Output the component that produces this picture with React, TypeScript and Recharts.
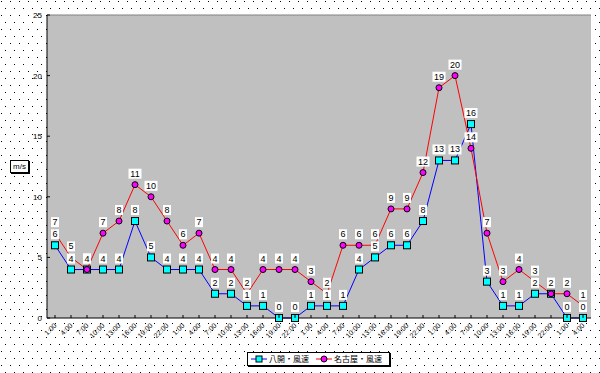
import React from 'react';
import { LineChart, Line, XAxis, YAxis, CartesianGrid, LabelList, ReferenceLine } from 'recharts';

const times = [
  '1:00', '4:00', '7:00', '10:00', '13:00', '16:00', '19:00', '22:00',
  '1:00', '4:00', '7:00', '10:00', '13:00', '16:00', '19:00', '22:00',
  '1:00', '4:00', '7:00', '10:00', '13:00', '16:00', '19:00', '22:00',
  '1:00', '4:00', '7:00', '10:00', '13:00', '16:00', '19:00', '22:00',
  '1:00', '4:00',
];
const hachikai = [6, 4, 4, 4, 4, 8, 5, 4, 4, 4, 2, 2, 1, 1, 0, 0, 1, 1, 1, 4, 5, 6, 6, 8, 13, 13, 16, 3, 1, 1, 2, 2, 0, 0];
const nagoya = [7, 5, 4, 7, 8, 11, 10, 8, 6, 7, 4, 4, 2, 4, 4, 4, 3, 2, 6, 6, 6, 9, 9, 12, 19, 20, 14, 7, 3, 4, 3, 2, 2, 1];
const yTicks = [0, 5, 10, 15, 20, 25];

const data = times.map((t, i) => ({ time: t, hachikai: hachikai[i], nagoya: nagoya[i] }));

const numFont = '"Liberation Sans", Arial, sans-serif';

const PointLabel = (props: any) => {
  const { x, y, value } = props;
  const s = String(value);
  const w = s.length * 5 + 3;
  return (
    <g>
      <rect x={x - w / 2} y={y - 16} width={w} height={10} fill="#ffffff" />
      <text x={x} y={y - 8} textAnchor="middle" fontSize={9} fontFamily={numFont} fill="#000">
        {s}
      </text>
    </g>
  );
};

const SquareDot = (props: any) => {
  const { cx, cy, index } = props;
  return <rect key={'s' + index} x={cx - 3.5} y={cy - 3.5} width={7} height={7} fill="#00ffff" stroke="#000" strokeWidth={1} />;
};

const CircleDot = (props: any) => {
  const { cx, cy, index } = props;
  return <circle key={'c' + index} cx={cx} cy={cy} r={3} fill="#ff00ff" stroke="#000" strokeWidth={1} />;
};

const XTick = (props: any) => {
  const { x, y, payload } = props;
  const axisY = y - 4;
  return (
    <g>
      <line x1={x} x2={x} y1={axisY - 3} y2={axisY} stroke="#000" />
      <text
        x={x + 2}
        y={y + 4}
        transform={`rotate(-45, ${x + 2}, ${y + 4})`}
        textAnchor="end"
        fontSize={7}
        fontFamily={numFont}
        fill="#000"
      >
        {payload.value}
      </text>
    </g>
  );
};

const YTick = (props: any) => {
  const { x, y, payload } = props;
  const axisX = x + 5;
  return (
    <g>
      <line x1={axisX} x2={axisX + 3} y1={y} y2={y} stroke="#000" />
      <text x={x} y={y + 3} textAnchor="end" fontSize={8} fontFamily={numFont} fill="#000">
        {payload.value}
      </text>
    </g>
  );
};

const App: React.FC = () => {
  return (
    <div style={{ position: 'absolute', left: 0, top: 0, width: 600, height: 373, background: '#fff' }}>
      <svg width={600} height={373} style={{ position: 'absolute', left: 0, top: 0 }}>
        <defs>
          <pattern id="dots" width={9} height={14} patternUnits="userSpaceOnUse">
            <rect x={1} y={1} width={1} height={1} fill="#000" />
            <rect x={5} y={8} width={1} height={1} fill="#000" />
          </pattern>
        </defs>
        <rect x={0} y={0} width={600} height={373} fill="url(#dots)" />
      </svg>
      <div style={{ position: 'absolute', left: 0, top: 0 }}>
        <LineChart width={600} height={373} data={data} margin={{ top: 15, right: 9, left: 0, bottom: 0 }}>
          <CartesianGrid horizontal={false} vertical={false} fill="#c0c0c0" />
          <ReferenceLine y={25} stroke="#808080" />
          <XAxis
            dataKey="time"
            interval={0}
            height={55}
            padding={{ left: 8, right: 8 }}
            axisLine={{ stroke: '#000' }}
            tickLine={false}
            tickSize={0}
            tickMargin={4}
            tick={<XTick />}
          />
          <YAxis
            width={47}
            domain={[0, 25]}
            ticks={yTicks}
            interval={0}
            axisLine={{ stroke: '#000' }}
            tickLine={false}
            tickSize={0}
            tickMargin={5}
            tick={<YTick />}
          />
          <Line
            type="linear"
            dataKey="hachikai"
            stroke="#0000ff"
            strokeWidth={1}
            dot={SquareDot}
            isAnimationActive={false}
          >
            <LabelList dataKey="hachikai" content={PointLabel} />
          </Line>
          <Line
            type="linear"
            dataKey="nagoya"
            stroke="#ff0000"
            strokeWidth={1}
            dot={CircleDot}
            isAnimationActive={false}
          >
            <LabelList dataKey="nagoya" content={PointLabel} />
          </Line>
        </LineChart>
      </div>
      <div
        style={{
          position: 'absolute',
          left: 10,
          top: 160,
          width: 17,
          height: 11,
          border: '1px solid #000',
          boxShadow: '1px 1px 0 #000',
          background: '#fff',
          fontFamily: numFont,
          fontSize: 8,
          lineHeight: '11px',
          textAlign: 'center',
        }}
      >
        m/s
      </div>
      <div
        style={{
          position: 'absolute',
          left: 247,
          top: 352,
          width: 141,
          height: 12,
          border: '1px solid #000',
          boxShadow: '1px 1px 0 #000',
          background: '#fff',
          display: 'flex',
          alignItems: 'center',
          whiteSpace: 'nowrap',
          overflow: 'hidden',
          fontFamily: '"Noto Sans CJK JP", sans-serif',
          fontSize: 8,
          lineHeight: '12px',
        }}
      >
        <svg width={16} height={12} style={{ marginLeft: 3, flexShrink: 0 }}>
          <line x1={0} x2={16} y1={6} y2={6} stroke="#0000ff" />
          <rect x={5} y={3} width={6} height={6} fill="#00ffff" stroke="#000" />
        </svg>
        <span style={{ marginLeft: 2 }}>八開・風速</span>
        <svg width={16} height={12} style={{ marginLeft: 7, flexShrink: 0 }}>
          <line x1={0} x2={16} y1={6} y2={6} stroke="#ff0000" />
          <circle cx={8} cy={6} r={3} fill="#ff00ff" stroke="#000" />
        </svg>
        <span style={{ marginLeft: 2 }}>名古屋・風速</span>
      </div>
    </div>
  );
};

export default App;
